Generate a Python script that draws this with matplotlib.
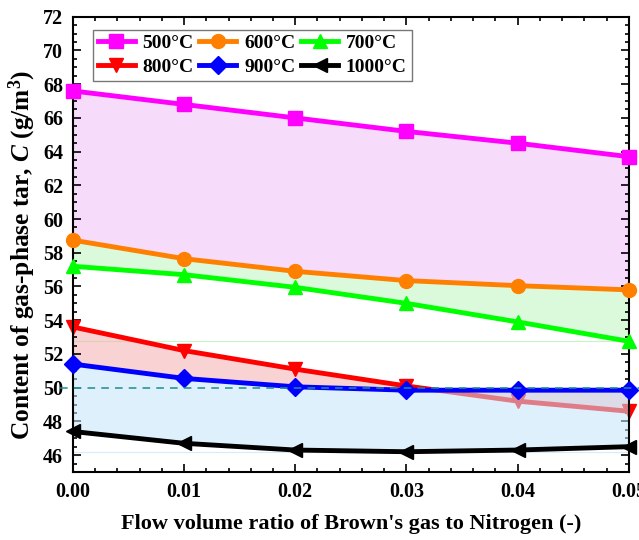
import matplotlib
matplotlib.use("Agg")
import matplotlib.pyplot as plt
from matplotlib.ticker import MultipleLocator, AutoMinorLocator

plt.rcParams['font.family'] = ['Liberation Serif', 'DejaVu Serif']
plt.rcParams['font.weight'] = 'bold'
plt.rcParams['mathtext.fontset'] = 'custom'
plt.rcParams['mathtext.rm'] = 'Liberation Serif:bold'
plt.rcParams['mathtext.it'] = 'Liberation Serif:italic:bold'
plt.rcParams['mathtext.bf'] = 'Liberation Serif:bold'

# flow volume ratio of Brown's gas to nitrogen
ratio = [0.00, 0.01, 0.02, 0.03, 0.04, 0.05]

# tar content (g/m3) at each temperature
tar_500 = [67.6, 66.8, 66.0, 65.2, 64.5, 63.7]
tar_600 = [58.75, 57.65, 56.9, 56.35, 56.05, 55.8]
tar_700 = [57.2, 56.7, 55.95, 55.0, 53.9, 52.75]
tar_800 = [53.6, 52.2, 51.1, 50.1, 49.2, 48.6]
tar_900 = [51.4, 50.55, 50.05, 49.85, 49.85, 49.85]
tar_1000 = [47.4, 46.7, 46.3, 46.2, 46.3, 46.5]

labels = ['500°C', '600°C', '700°C', '800°C', '900°C', '1000°C']
series = [tar_500, tar_600, tar_700, tar_800, tar_900, tar_1000]
colors = ['#ff00ff', '#ff8000', '#00ff00', '#ff0000', '#0000ff', '#000000']
markers = ['s', 'o', '^', 'v', 'D', '<']
# red curve sits under the blue band once it drops below 900°C
zorders = [3, 3, 3, 2, 3, 3]

fig = plt.figure(figsize=(6.39, 5.4), dpi=100)
ax = fig.add_axes([0.114, 0.126, 0.870, 0.843])

handles = []
for s, lab, c, m, z in zip(series, labels, colors, markers, zorders):
    ms = 9 if m == 'D' else 10
    h, = ax.plot(ratio, s, color=c, lw=3.5, marker=m, ms=ms, label=lab,
                 clip_on=False, zorder=z)
    handles.append(h)

# shaded bands between neighbouring temperatures
ax.fill_between(ratio, tar_500, tar_600, color='#f2c4f7', alpha=0.6, lw=0, zorder=1.5)
ax.fill_between(ratio, tar_600, tar_700, color='#c4f7c4', alpha=0.6, lw=0, zorder=1.5)
ax.fill_between(ratio, tar_800, tar_900, color='#f5a8a8', alpha=0.5, lw=0, zorder=1.5)
ax.fill_between(ratio, tar_900, tar_1000, color='#c4e4fa', alpha=0.55, lw=0, zorder=2.5)
ax.axhline(min(tar_700), color='#c4f7c4', lw=0.8, zorder=1)
ax.axhline(min(tar_1000), color='#d8ecf8', lw=0.8, zorder=1)

# reference level at 50 g/m3
ax.plot([-0.0012, 0.0512], [50, 50], color='#1a8f8f', lw=1.1, ls=(0, (5, 4)),
        clip_on=False, zorder=5)

ax.set_xlim(0, 0.05)
ax.set_ylim(45, 72)
ax.xaxis.set_major_locator(MultipleLocator(0.01))
ax.xaxis.set_minor_locator(AutoMinorLocator(5))
ax.set_yticks([46, 48, 50, 52, 54, 56, 58, 60, 62, 64, 66, 68, 70, 72])
ax.yaxis.set_minor_locator(AutoMinorLocator(4))
ax.xaxis.set_major_formatter(plt.FuncFormatter(lambda v, p: f'{v:.2f}'))
ax.tick_params(which='both', direction='in', top=True, right=True, width=1.2)
ax.tick_params(which='major', length=6, labelsize=14.5, pad=7)
ax.tick_params(which='minor', length=3)
for sp in ax.spines.values():
    sp.set_linewidth(1.5)

ax.set_xlabel("Flow volume ratio of Brown's gas to Nitrogen (-)",
              fontsize=16, fontweight='bold')
ax.xaxis.set_label_coords(0.5, -0.093)
ax.set_ylabel("Content of gas-phase tar, $C$ (g/m$^3$)",
              fontsize=18.3, fontweight='bold')
ax.yaxis.set_label_coords(-0.063, 0.477)

# legend filled row by row
order = [0, 3, 1, 4, 2, 5]
leg = ax.legend([handles[i] for i in order], [labels[i] for i in order],
                ncol=3, loc='upper left', bbox_to_anchor=(0.029, 0.98),
                fontsize=14, frameon=True, fancybox=False, edgecolor='#555555',
                handlelength=1.9, handletextpad=0.4, columnspacing=0.3,
                labelspacing=0.3, borderpad=0.25, borderaxespad=0.2)
leg.get_frame().set_linewidth(1.0)
leg.set_zorder(10)

fig.savefig('out.png', dpi=100)
